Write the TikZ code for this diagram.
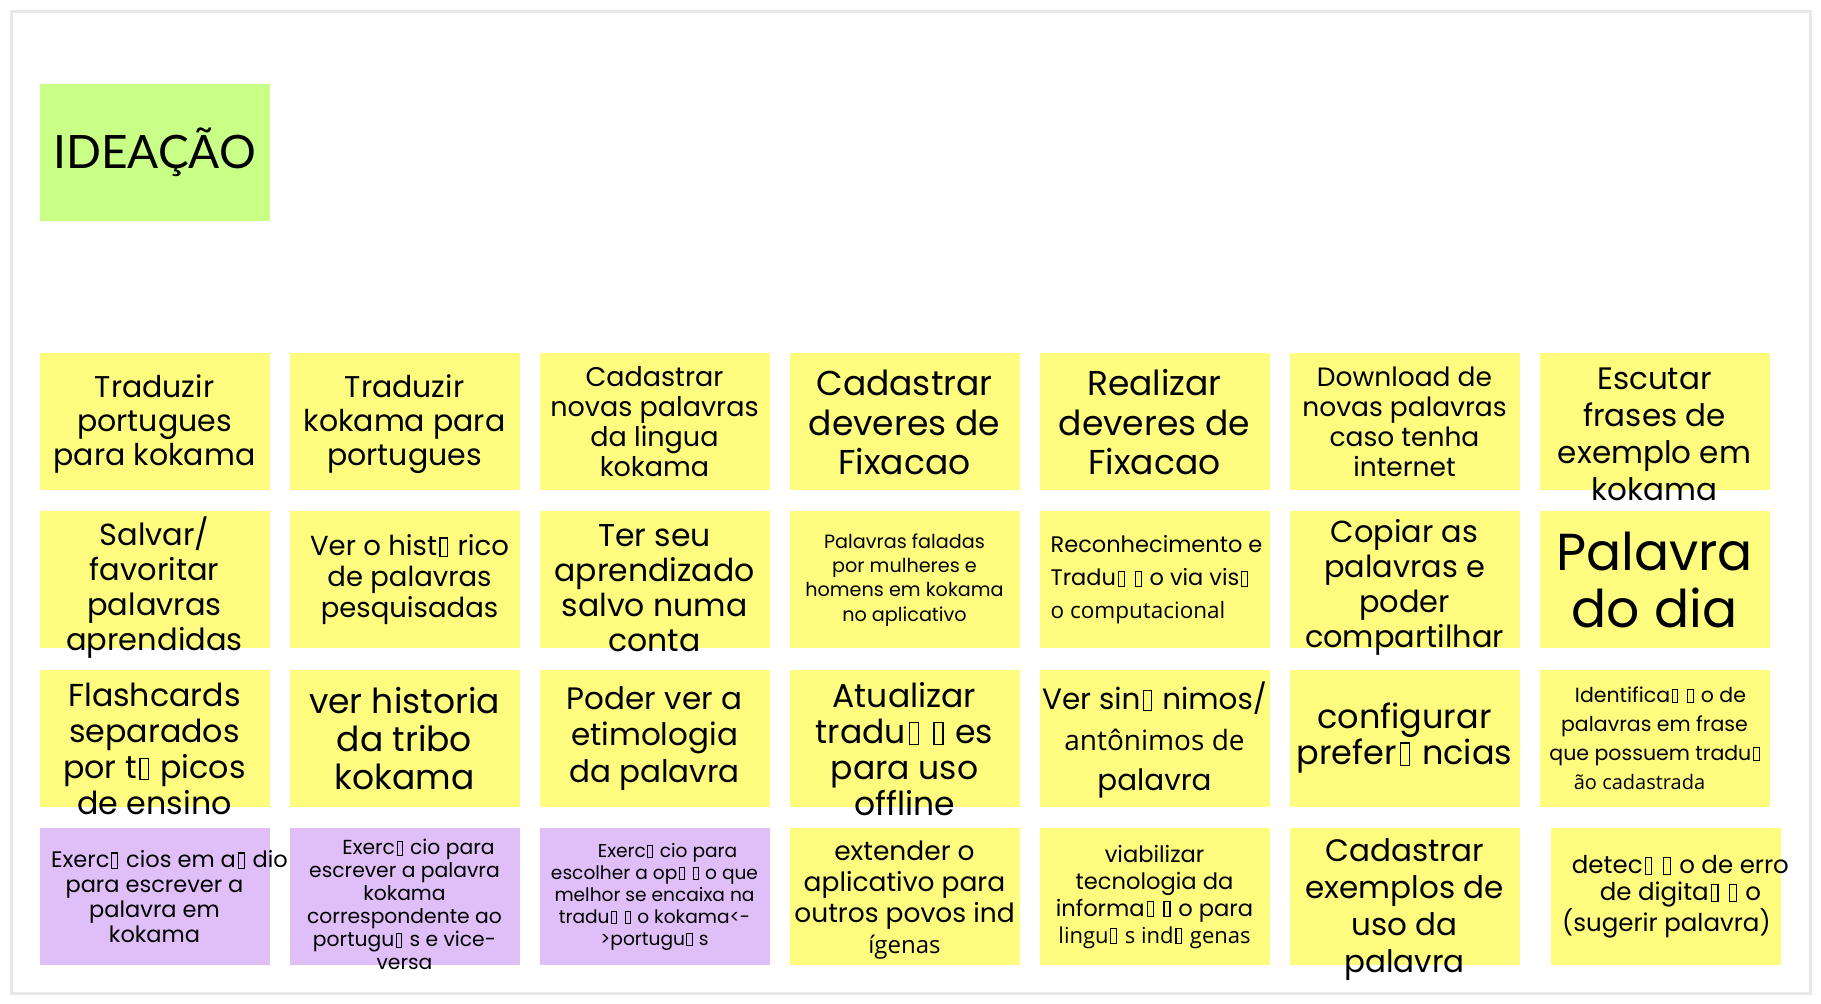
\documentclass[tikz,border=0pt]{standalone}
\usepackage{fontspec}
\usepackage{xcolor}
\usepackage{tikz}
\usetikzlibrary{shapes,positioning}
\newfontfamily\handfont{Poppins}
\newfontfamily\plainfont{Open Sans}
\newfontfamily\titlefont{Lato}
\definecolor{yellownote}{RGB}{254, 252, 127}
\definecolor{greennote}{RGB}{201, 255, 134}
\definecolor{purplenote}{RGB}{224, 190, 248}
\definecolor{framegray}{RGB}{232, 232, 232}
\newcommand{\hw}[2]{\handfont\fontsize{#1pt}{#2pt}\selectfont}
\newcommand{\nogl}{{\hspace{0.08em}\fboxsep=0pt\fboxrule=0.05em\fbox{\rule{0.22em}{0pt}\rule{0pt}{0.62em}}\hspace{0.08em}}}
\tikzstyle{sticky} = [rectangle, draw=none, fill=yellownote, minimum width=230pt, minimum height=137pt, inner sep=0pt]
\tikzstyle{purplesticky} = [sticky, fill=purplenote]
\tikzstyle{greensticky} = [sticky, fill=greennote, font=\titlefont\fontsize{46pt}{50pt}\selectfont]
\tikzstyle{notetext} = [draw=none, fill=none, align=center, inner sep=0pt, text=black]

\begin{document}
\begin{tikzpicture}[x=1pt, y=1pt]
\useasboundingbox (0,0) rectangle (1821,-1004);
\draw[framegray, line width=3pt] (11,-11) rectangle (1810,-993);

%title
\node[greensticky] (ideacao) at (154.5,-152) {IDEAÇÃO};

%row 1
\node[sticky, below = 132pt of ideacao] (tradpk) {};
\node[sticky, right = 19.6pt of tradpk] (tradkp) {};
\node[sticky, right = 19.6pt of tradkp] (cadpal) {};
\node[sticky, right = 19.6pt of cadpal] (caddev) {};
\node[sticky, right = 19.6pt of caddev] (realdev) {};
\node[sticky, right = 19.6pt of realdev] (download) {};
\node[sticky, right = 19.6pt of download] (escutar) {};

%row 2
\node[sticky, below = 21pt of tradpk] (salvar) {};
\node[sticky, right = 19.6pt of salvar] (historico) {};
\node[sticky, right = 19.6pt of historico] (conta) {};
\node[sticky, right = 19.6pt of conta] (faladas) {};
\node[sticky, right = 19.6pt of faladas] (visao) {};
\node[sticky, right = 19.6pt of visao] (copiar) {};
\node[sticky, right = 19.6pt of copiar] (palavradia) {};

%row 3
\node[sticky, below = 21pt of salvar] (flashcards) {};
\node[sticky, right = 19.6pt of flashcards] (historia) {};
\node[sticky, right = 19.6pt of historia] (etimologia) {};
\node[sticky, right = 19.6pt of etimologia] (offline) {};
\node[sticky, right = 19.6pt of offline] (sinonimos) {};
\node[sticky, right = 19.6pt of sinonimos] (config) {};
\node[sticky, right = 19.6pt of config] (identif) {};

%row 4
\node[purplesticky, below = 21pt of flashcards] (exaudio) {};
\node[purplesticky, right = 19.6pt of exaudio] (exescrever) {};
\node[purplesticky, right = 19.6pt of exescrever] (exescolher) {};
\node[sticky, right = 19.6pt of exescolher] (extender) {};
\node[sticky, right = 19.6pt of extender] (viabilizar) {};
\node[sticky, right = 19.6pt of viabilizar] (exemplos) {};
\node[sticky, right = 31.5pt of exemplos] (deteccao) {};

%texts row 1
\node[notetext, font=\hw{30}{34}, yshift=-3pt] (tradpk-txt) at (tradpk) {Traduzir\\portugues\\para kokama};
\node[notetext, font=\hw{30}{34}, yshift=-3pt] (tradkp-txt) at (tradkp) {Traduzir\\kokama para\\portugues};
\node[notetext, font=\hw{27}{30}] (cadpal-txt) at (cadpal) {Cadastrar\\novas palavras\\da lingua\\kokama};
\node[notetext, font=\hw{34.5}{39.5}, yshift=-1pt] (caddev-txt) at (caddev) {Cadastrar\\deveres de\\Fixacao};
\node[notetext, font=\hw{34.5}{39.5}, yshift=-1pt] (realdev-txt) at (realdev) {Realizar\\deveres de\\Fixacao};
\node[notetext, font=\hw{26.5}{30}] (download-txt) at (download) {Download de\\novas palavras\\caso tenha\\internet};
\node[notetext, font=\hw{31}{37}, yshift=-13pt] (escutar-txt) at (escutar) {Escutar\\frases de\\exemplo em\\kokama};

%texts row 2
\node[notetext, font=\hw{30.5}{35}, yshift=-8pt] (salvar-txt) at (salvar) {Salvar/\\favoritar\\palavras\\aprendidas};
\node[notetext, font=\hw{27.5}{31}, xshift=5pt] (historico-txt) at (historico) {Ver o hist\nogl{} rico\\de palavras\\pesquisadas};
\node[notetext, font=\hw{31.5}{35}, yshift=-8pt] (conta-txt) at (conta) {Ter seu\\aprendizado\\salvo numa\\conta};
\node[notetext, font=\hw{19.2}{24.4}] (faladas-txt) at (faladas) {Palavras faladas\\por mulheres e\\homens em kokama\\no aplicativo};
\node[notetext, font=\hw{22.5}{33}, align=left, xshift=2pt] (visao-txt) at (visao) {Reconhecimento e\\Tradu\nogl{} \nogl{} o via vis\nogl{}\\{\plainfont o computacional}};
\node[notetext, font=\hw{30.4}{35}, yshift=-8pt] (copiar-txt) at (copiar) {Copiar as\\palavras e\\poder\\compartilhar};
\node[notetext, font=\hw{52}{57}] (palavradia-txt) at (palavradia) {Palavra\\do dia};

%texts row 3
\node[notetext, font=\hw{31.7}{36}, yshift=-11pt] (flashcards-txt) at (flashcards) {Flashcards\\separados\\por t\nogl{} picos\\de ensino};
\node[notetext, font=\hw{34.5}{38}] (historia-txt) at (historia) {ver historia\\da tribo\\kokama};
\node[notetext, font=\hw{31}{36.6}] (etimologia-txt) at (etimologia) {Poder ver a\\etimologia\\da palavra};
\node[notetext, font=\hw{33}{36}, yshift=-11pt] (offline-txt) at (offline) {Atualizar\\tradu\nogl{} \nogl{} es\\para uso\\offline};
\node[notetext, font=\hw{29.4}{40.6}, yshift=-2pt] (sinonimos-txt) at (sinonimos) {Ver sin\nogl{} nimos/\\{\plainfont\fontsize{28pt}{40.6pt}\selectfont antônimos de}\\palavra};
\node[notetext, font=\hw{33.5}{36}] (config-txt) at (config) {configurar\\prefer\nogl{} ncias};
\node[notetext, font=\hw{20.5}{29}] (identif-txt) at (identif) {\hspace*{12pt}Identifica\nogl{} \nogl{} o de\\palavras em frase\\que possuem tradu\nogl{}\\{\plainfont\fontsize{20pt}{29pt}\selectfont ão cadastrada}\hspace*{30pt}};

%texts row 4
\node[notetext, font=\hw{22.5}{25}] (exaudio-txt) at (exaudio) {\hspace*{30pt}Exerc\nogl{} cios em a\nogl{} dio\\para escrever a\\palavra em\\kokama};
\node[notetext, font=\hw{20.3}{23}, yshift=-8pt] (exescrever-txt) at (exescrever) {\hspace*{28pt}Exerc\nogl{} cio para\\escrever a palavra\\kokama\\correspondente ao\\portugu\nogl{} s e vice-\\versa};
\node[notetext, font=\hw{18.6}{22}] (exescolher-txt) at (exescolher) {\hspace*{26pt}Exerc\nogl{} cio para\\escolher a op\nogl{} \nogl{} o que\\melhor se encaixa na\\tradu\nogl{} \nogl{} o kokama<-\\>portugu\nogl{} s};
\node[notetext, font=\hw{26.5}{31}, yshift=-3pt] (extender-txt) at (extender) {extender o\\aplicativo para\\outros povos ind\\{\plainfont\fontsize{24pt}{31pt}\selectfont ígenas}};
\node[notetext, font=\hw{22.6}{27}] (viabilizar-txt) at (viabilizar) {viabilizar\\tecnologia da\\informa\nogl{} \nogl{} o para\\{\plainfont\fontsize{22pt}{27pt}\selectfont lingu\nogl{} s ind\nogl{} genas}};
\node[notetext, font=\hw{31}{37}, yshift=-13pt] (exemplos-txt) at (exemplos) {Cadastrar\\exemplos de\\uso da\\palavra};
\node[notetext, font=\hw{24.5}{27}] (deteccao-txt) at (deteccao) {\hspace*{28pt}detec\nogl{} \nogl{} o de erro\\\hspace*{28pt}de digita\nogl{} \nogl{} o\\(sugerir palavra)};

\end{tikzpicture}
\end{document}
